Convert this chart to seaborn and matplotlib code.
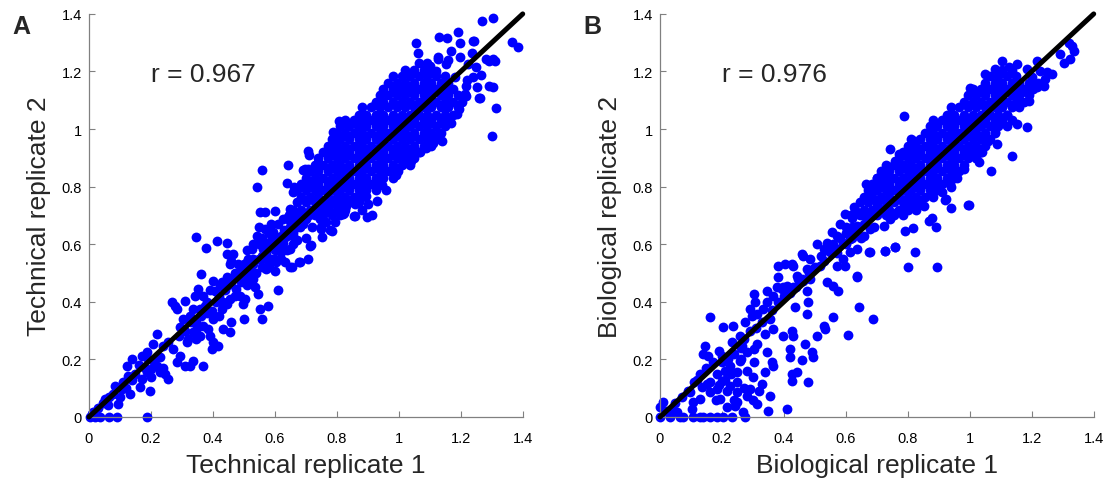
import pandas as pd
import matplotlib
matplotlib.use("Agg")
import matplotlib.pyplot as plt
import seaborn as sns

# ==========================================
# Data
# ==========================================
ticks = [0, 0.2, 0.4, 0.6, 0.8, 1.0, 1.2, 1.4]
tick_labels = ["0", "0.2", "0.4", "0.6", "0.8", "1", "1.2", "1.4"]
line_x = [0, 1.4]
line_y = [0, 1.4]

# --- Panel A: technical replicates ---
a_core_y = [0.70, 0.72, 0.745, 0.765, 0.79, 0.81, 0.83, 0.855, 0.875, 0.90, 0.92, 0.94,
            0.965, 0.985, 1.01, 1.03, 1.05, 1.075, 1.095, 1.12, 1.14, 1.16, 1.185, 1.205, 1.23]
a_core_x = [
    [0.645, 0.67, 0.70, 0.73, 0.755, 0.785, 0.81],
    [0.66, 0.685, 0.715, 0.74, 0.77, 0.80, 0.825],
    [0.67, 0.70, 0.73, 0.755, 0.785, 0.81, 0.84, 0.87],
    [0.685, 0.715, 0.74, 0.77, 0.80, 0.825, 0.855, 0.88],
    [0.67, 0.70, 0.73, 0.755, 0.785, 0.81, 0.84, 0.87, 0.895, 0.925],
    [0.685, 0.715, 0.74, 0.77, 0.80, 0.825, 0.855, 0.88, 0.91, 0.94],
    [0.70, 0.73, 0.755, 0.785, 0.81, 0.84, 0.87, 0.895, 0.925, 0.95, 0.98],
    [0.715, 0.74, 0.77, 0.80, 0.825, 0.855, 0.88, 0.91, 0.94, 0.965, 0.995],
    [0.73, 0.755, 0.785, 0.81, 0.84, 0.87, 0.895, 0.925, 0.95, 0.98, 1.01, 1.035],
    [0.74, 0.77, 0.80, 0.825, 0.855, 0.88, 0.91, 0.94, 0.965, 0.995, 1.02, 1.05],
    [0.755, 0.785, 0.81, 0.84, 0.87, 0.895, 0.925, 0.95, 0.98, 1.01, 1.035, 1.065],
    [0.77, 0.80, 0.825, 0.855, 0.88, 0.91, 0.94, 0.965, 0.995, 1.02, 1.05, 1.08, 1.105],
    [0.785, 0.81, 0.84, 0.87, 0.895, 0.925, 0.95, 0.98, 1.01, 1.035, 1.065, 1.09, 1.12],
    [0.80, 0.825, 0.855, 0.88, 0.91, 0.94, 0.965, 0.995, 1.02, 1.05, 1.08, 1.105, 1.135],
    [0.81, 0.84, 0.87, 0.895, 0.925, 0.95, 0.98, 1.01, 1.035, 1.065, 1.09, 1.12, 1.15],
    [0.825, 0.855, 0.88, 0.91, 0.94, 0.965, 0.995, 1.02, 1.05, 1.08, 1.105, 1.135, 1.16],
    [0.87, 0.895, 0.925, 0.95, 0.98, 1.01, 1.035, 1.065, 1.09, 1.12, 1.15, 1.175],
    [0.88, 0.91, 0.94, 0.965, 0.995, 1.02, 1.05, 1.08, 1.105, 1.135, 1.16, 1.19],
    [0.925, 0.95, 0.98, 1.01, 1.035, 1.065, 1.09, 1.12, 1.15, 1.175, 1.205],
    [0.94, 0.965, 0.995, 1.02, 1.05, 1.08, 1.105, 1.135, 1.16, 1.19],
    [0.95, 0.98, 1.01, 1.035, 1.065, 1.09, 1.12, 1.15, 1.175],
    [0.965, 0.995, 1.02, 1.05, 1.08, 1.105, 1.135, 1.16],
    [0.98, 1.01, 1.035, 1.065, 1.09, 1.12, 1.15],
    [1.02, 1.05, 1.08, 1.105],
    [1.065, 1.09],
]
a_high = [(1.304, 1.385), (1.269, 1.376), (1.364, 1.303), (1.386, 1.286), (1.191, 1.336),
          (1.130, 1.321), (1.157, 1.316), (1.057, 1.300), (1.063, 1.265), (1.198, 1.300),
          (1.243, 1.306), (1.167, 1.272), (1.237, 1.263), (1.197, 1.251), (1.128, 1.245),
          (1.290, 1.237), (1.310, 1.238), (1.160, 1.240), (1.154, 1.226), (1.224, 1.226),
          (1.248, 1.215), (1.265, 1.188), (1.290, 1.149), (1.304, 1.147), (1.251, 1.145),
          (1.259, 1.108), (1.216, 1.116), (1.313, 1.073), (1.301, 0.975), (1.195, 1.069),
          (1.189, 1.052), (1.168, 1.020), (1.130, 0.988), (1.128, 0.975), (1.089, 0.933),
          (0.923, 1.083), (0.890, 1.044), (0.861, 1.017), (0.806, 1.029), (0.829, 1.017),
          (0.788, 0.991), (0.788, 0.946), (0.708, 0.925), (0.711, 0.910), (0.738, 0.881),
          (0.708, 0.863), (0.691, 0.858), (0.641, 0.875), (0.559, 0.858), (0.543, 0.798),
          (0.639, 0.811), (0.663, 0.798), (0.665, 0.79), (0.997, 0.855), (0.947, 0.807),
          (0.894, 0.768), (0.659, 0.78), (0.697, 0.861), (0.74, 0.884), (1.10, 1.22),
          (1.12, 1.20), (1.18, 1.18), (1.22, 1.17), (1.24, 1.18), (1.14, 0.96), (1.11, 0.95),
          (1.07, 0.92), (1.04, 0.89), (0.99, 0.84), (0.96, 0.79), (0.93, 0.75), (1.127, 1.249),
          (1.239, 1.307), (1.283, 1.243), (1.304, 1.243), (1.261, 1.107), (1.218, 1.15),
          (1.213, 1.121)]
a_mid = [(0.267, 0.398), (0.277, 0.386), (0.283, 0.375), (0.31, 0.404), (0.294, 0.311),
         (0.303, 0.34), (0.326, 0.352), (0.336, 0.375), (0.342, 0.421), (0.353, 0.444),
         (0.363, 0.497), (0.347, 0.624), (0.377, 0.587), (0.412, 0.612), (0.447, 0.606),
         (0.401, 0.473), (0.406, 0.439), (0.369, 0.421), (0.38, 0.398), (0.358, 0.375),
         (0.374, 0.386), (0.396, 0.369), (0.401, 0.34), (0.385, 0.306), (0.39, 0.283),
         (0.358, 0.283), (0.347, 0.271), (0.337, 0.294), (0.315, 0.259), (0.347, 0.329),
         (0.368, 0.317), (0.401, 0.259), (0.417, 0.248), (0.396, 0.236), (0.428, 0.375),
         (0.433, 0.398), (0.444, 0.392), (0.455, 0.41), (0.433, 0.306), (0.455, 0.294),
         (0.46, 0.329), (0.423, 0.456), (0.444, 0.485), (0.455, 0.531), (0.444, 0.566),
         (0.465, 0.566), (0.46, 0.543), (0.471, 0.488), (0.476, 0.444), (0.487, 0.421),
         (0.498, 0.392), (0.503, 0.41), (0.5, 0.34), (0.509, 0.468), (0.492, 0.52),
         (0.509, 0.537), (0.525, 0.583), (0.52, 0.5), (0.53, 0.479), (0.535, 0.45),
         (0.546, 0.427), (0.552, 0.375), (0.557, 0.34), (0.578, 0.387), (0.514, 0.55),
         (0.541, 0.63), (0.552, 0.711), (0.568, 0.711), (0.562, 0.583), (0.573, 0.606),
         (0.557, 0.52), (0.573, 0.514), (0.568, 0.653), (0.589, 0.67), (0.594, 0.641),
         (0.589, 0.549), (0.6, 0.508), (0.611, 0.44), (0.605, 0.537), (0.616, 0.583),
         (0.627, 0.606), (0.648, 0.583), (0.648, 0.52), (0.632, 0.537), (0.62, 0.572),
         (0.638, 0.641), (0.659, 0.63), (0.67, 0.613), (0.678, 0.538), (0.708, 0.549),
         (0.713, 0.595), (0.627, 0.688), (0.648, 0.722), (0.67, 0.705), (0.68, 0.676),
         (0.702, 0.688), (0.723, 0.711), (0.745, 0.688), (0.75, 0.653), (0.766, 0.676),
         (0.783, 0.647), (0.793, 0.676), (0.82, 0.705), (0.858, 0.699), (0.896, 0.696),
         (0.915, 0.703), (0.856, 0.697), (0.824, 0.707), (0.777, 0.65), (0.751, 0.624),
         (0.748, 0.659), (0.804, 0.734), (0.831, 0.734), (0.718, 0.597), (0.681, 0.537),
         (0.654, 0.522), (0.6, 0.716), (0.56, 0.56), (0.58, 0.6), (0.6, 0.62), (0.62, 0.6),
         (0.6, 0.58), (0.63, 0.65), (0.65, 0.66), (0.66, 0.64), (0.68, 0.66), (0.69, 0.69),
         (0.61, 0.67), (0.64, 0.69), (0.58, 0.64), (0.55, 0.6), (0.53, 0.55), (0.5, 0.5),
         (0.52, 0.52), (0.47, 0.5), (0.49, 0.47), (0.54, 0.5), (0.6, 0.55), (0.66, 0.6),
         (0.7, 0.62), (0.72, 0.66), (0.71, 0.7), (0.62, 0.55), (0.55, 0.66), (0.44, 0.44),
         (0.42, 0.42), (0.39, 0.44), (0.41, 0.40), (0.38, 0.36), (0.36, 0.35), (0.33, 0.33),
         (0.31, 0.3), (0.29, 0.28), (0.32, 0.27), (0.35, 0.31), (0.42, 0.35), (0.45, 0.46),
         (0.48, 0.53), (0.51, 0.58), (0.53, 0.6), (0.56, 0.62), (0.59, 0.59), (0.63, 0.62),
         (0.67, 0.68), (0.74, 0.72), (0.76, 0.73), (0.78, 0.74), (0.86, 0.74), (0.88, 0.72),
         (0.9, 0.74), (0.46, 0.47), (0.48, 0.49), (0.5, 0.53), (0.51, 0.49), (0.53, 0.53),
         (0.55, 0.55), (0.57, 0.57), (0.57, 0.55), (0.59, 0.62), (0.61, 0.61), (0.62, 0.63),
         (0.64, 0.63), (0.65, 0.68), (0.67, 0.66), (0.69, 0.67), (0.43, 0.47), (0.47, 0.42),
         (0.51, 0.46), (0.58, 0.52), (0.64, 0.58)]
a_low = [(0.003, 0.0), (0.02, 0.0), (0.035, 0.0), (0.066, 0.0), (0.089, 0.0), (0.186, 0.0),
         (0.01, 0.01), (0.014, 0.016), (0.03, 0.03), (0.045, 0.05), (0.052, 0.062),
         (0.065, 0.07), (0.078, 0.08), (0.084, 0.108), (0.1, 0.068), (0.095, 0.045),
         (0.105, 0.097), (0.11, 0.12), (0.127, 0.144), (0.122, 0.178), (0.138, 0.201),
         (0.132, 0.08), (0.165, 0.103), (0.197, 0.089), (0.17, 0.213), (0.186, 0.224),
         (0.17, 0.132), (0.186, 0.155), (0.2, 0.166), (0.218, 0.178), (0.228, 0.155),
         (0.24, 0.17), (0.256, 0.132), (0.245, 0.15), (0.208, 0.253), (0.218, 0.288),
         (0.24, 0.248), (0.256, 0.259), (0.27, 0.236), (0.283, 0.19), (0.293, 0.213),
         (0.31, 0.178), (0.326, 0.178), (0.336, 0.196), (0.369, 0.178), (0.15, 0.15),
         (0.16, 0.18), (0.19, 0.2), (0.2, 0.14), (0.23, 0.21), (0.21, 0.19), (0.18, 0.17),
         (0.14, 0.13), (0.12, 0.1), (0.06, 0.04)]

# --- Panel B: biological replicates ---
b_core_y = [0.70, 0.72, 0.745, 0.765, 0.79, 0.81, 0.83, 0.855, 0.875, 0.90, 0.92, 0.94,
            0.965, 0.985, 1.01, 1.03, 1.05, 1.075, 1.095, 1.12, 1.14, 1.16, 1.185, 1.205]
b_core_x = [
    [0.615, 0.645, 0.67, 0.70, 0.73, 0.755, 0.785],
    [0.63, 0.66, 0.685, 0.715, 0.74, 0.77, 0.80, 0.825],
    [0.645, 0.67, 0.70, 0.73, 0.755, 0.785, 0.81, 0.84],
    [0.66, 0.685, 0.715, 0.74, 0.77, 0.80, 0.825, 0.855, 0.88],
    [0.67, 0.70, 0.73, 0.755, 0.785, 0.81, 0.84, 0.87, 0.895],
    [0.685, 0.715, 0.74, 0.77, 0.80, 0.825, 0.855, 0.88, 0.91, 0.935],
    [0.70, 0.73, 0.755, 0.785, 0.81, 0.84, 0.87, 0.895, 0.925, 0.95],
    [0.715, 0.74, 0.77, 0.80, 0.825, 0.855, 0.88, 0.91, 0.94, 0.965],
    [0.73, 0.755, 0.785, 0.81, 0.84, 0.87, 0.895, 0.925, 0.95, 0.98],
    [0.77, 0.80, 0.825, 0.855, 0.88, 0.91, 0.94, 0.965, 0.995, 1.02],
    [0.785, 0.81, 0.84, 0.87, 0.895, 0.925, 0.95, 0.98, 1.01, 1.035],
    [0.80, 0.825, 0.855, 0.88, 0.91, 0.94, 0.965, 0.995, 1.02, 1.05],
    [0.81, 0.84, 0.87, 0.895, 0.925, 0.95, 0.98, 1.01, 1.035, 1.065],
    [0.855, 0.88, 0.91, 0.94, 0.965, 0.995, 1.02, 1.05, 1.08],
    [0.87, 0.895, 0.925, 0.95, 0.98, 1.01, 1.035, 1.065, 1.09, 1.12],
    [0.88, 0.91, 0.94, 0.965, 0.995, 1.02, 1.05, 1.08, 1.105, 1.135],
    [0.925, 0.95, 0.98, 1.01, 1.035, 1.065, 1.09, 1.12],
    [0.94, 0.965, 0.995, 1.02, 1.05, 1.08, 1.105, 1.135, 1.16],
    [0.98, 1.01, 1.035, 1.065, 1.09, 1.12, 1.15, 1.175],
    [0.995, 1.02, 1.05, 1.08, 1.105, 1.135, 1.16, 1.19],
    [1.01, 1.035, 1.065, 1.09, 1.12, 1.15, 1.175, 1.205],
    [1.05, 1.08, 1.105, 1.135, 1.16, 1.19, 1.22],
    [1.065, 1.09, 1.12, 1.15],
    [1.105, 1.135],
]
b_high = [(1.33, 1.289), (1.335, 1.27), (1.32, 1.30), (1.303, 1.231), (1.323, 1.243),
          (1.292, 1.26), (1.217, 1.237), (1.104, 1.237), (1.125, 1.214), (1.152, 1.226),
          (1.185, 1.208), (1.228, 1.203), (1.249, 1.197), (1.265, 1.191), (1.244, 1.174),
          (1.239, 1.150), (1.217, 1.145), (1.19, 1.098), (1.152, 1.017), (1.185, 1.006),
          (1.136, 0.907), (1.068, 0.855), (1.031, 0.884), (1.0, 1.141), (0.788, 1.046),
          (0.743, 0.931), (0.77, 0.913), (0.732, 0.873), (0.665, 0.809), (1.088, 0.948),
          (1.20, 1.18), (1.21, 1.16), (1.17, 1.13), (1.16, 1.10), (1.12, 1.05), (1.10, 1.03),
          (1.08, 0.99), (1.06, 0.96), (1.04, 0.92), (1.02, 0.90), (0.98, 0.86), (0.96, 0.83),
          (0.94, 0.80), (0.91, 0.78), (0.924, 0.757), (0.94, 0.726), (0.994, 0.738),
          (0.82, 0.96), (0.80, 0.92), (0.76, 0.89), (0.72, 0.85), (0.70, 0.83), (0.68, 0.79),
          (1.08, 1.21), (1.05, 1.19)]
b_mid = [(0.996, 0.737), (0.921, 0.753), (0.892, 0.659), (0.867, 0.682), (0.816, 0.656),
         (0.824, 0.572), (0.8, 0.522), (0.894, 0.522), (0.792, 0.647), (0.76, 0.589),
         (0.725, 0.575), (0.675, 0.572), (0.635, 0.487), (0.644, 0.381), (0.689, 0.34),
         (0.606, 0.285), (0.558, 0.348), (0.576, 0.439), (0.56, 0.455), (0.539, 0.47),
         (0.625, 0.728), (0.598, 0.705), (0.555, 0.641), (0.506, 0.601), (0.463, 0.56),
         (0.431, 0.525), (0.382, 0.525), (0.404, 0.531), (0.425, 0.531), (0.442, 0.491),
         (0.382, 0.485), (0.377, 0.45), (0.398, 0.45), (0.431, 0.45), (0.463, 0.473),
         (0.485, 0.479), (0.474, 0.439), (0.479, 0.398), (0.476, 0.358), (0.436, 0.381),
         (0.528, 0.317), (0.533, 0.306), (0.506, 0.282), (0.469, 0.253), (0.49, 0.225),
         (0.495, 0.208), (0.458, 0.198), (0.442, 0.155), (0.479, 0.12), (0.425, 0.149),
         (0.431, 0.282), (0.425, 0.3), (0.398, 0.282), (0.42, 0.236), (0.42, 0.207),
         (0.425, 0.126), (0.409, 0.028), (0.495, 0.514), (0.517, 0.525), (0.528, 0.543),
         (0.549, 0.572), (0.571, 0.583), (0.592, 0.606), (0.614, 0.618), (0.625, 0.641),
         (0.635, 0.664), (0.668, 0.688), (0.7, 0.711), (0.722, 0.722), (0.571, 0.525),
         (0.592, 0.549), (0.614, 0.572), (0.635, 0.583), (0.657, 0.63), (0.679, 0.653),
         (0.722, 0.664), (0.743, 0.688), (0.765, 0.711), (0.786, 0.722), (0.808, 0.734),
         (0.829, 0.745), (0.851, 0.734), (0.458, 0.566), (0.571, 0.63), (0.539, 0.606),
         (0.528, 0.583), (0.485, 0.549), (0.474, 0.514), (0.447, 0.479), (0.409, 0.456),
         (0.393, 0.444), (0.366, 0.421), (0.345, 0.398), (0.334, 0.375), (0.312, 0.358),
         (0.296, 0.352), (0.291, 0.375), (0.302, 0.427), (0.307, 0.398), (0.345, 0.439),
         (0.355, 0.34), (0.366, 0.306), (0.339, 0.288), (0.275, 0.329), (0.237, 0.317),
         (0.202, 0.314), (0.162, 0.346), (0.878, 0.69), (0.70, 0.74), (0.66, 0.70),
         (0.74, 0.745), (0.60, 0.66), (0.62, 0.69), (0.58, 0.67), (0.635, 0.491),
         (0.598, 0.525), (0.678, 0.572), (0.727, 0.578), (0.759, 0.591), (0.36, 0.37),
         (0.38, 0.4), (0.4, 0.42), (0.42, 0.43), (0.44, 0.45), (0.46, 0.48), (0.48, 0.5),
         (0.5, 0.52), (0.52, 0.56), (0.54, 0.58), (0.56, 0.6), (0.58, 0.62), (0.6, 0.64),
         (0.62, 0.62), (0.64, 0.66), (0.66, 0.67), (0.68, 0.7), (0.65, 0.62), (0.69, 0.66),
         (0.62, 0.66), (0.6, 0.6), (0.57, 0.57)]
b_low = [(0.145, 0.248), (0.14, 0.219), (0.156, 0.213), (0.19, 0.23), (0.2, 0.213),
         (0.232, 0.259), (0.259, 0.282), (0.265, 0.248), (0.28, 0.225), (0.302, 0.236),
         (0.312, 0.253), (0.345, 0.225), (0.361, 0.19), (0.366, 0.178), (0.302, 0.19),
         (0.259, 0.196), (0.226, 0.178), (0.21, 0.161), (0.248, 0.155), (0.183, 0.149),
         (0.199, 0.126), (0.226, 0.109), (0.248, 0.086), (0.215, 0.092), (0.183, 0.097),
         (0.162, 0.086), (0.151, 0.115), (0.129, 0.0625), (0.135, 0.103), (0.108, 0.051),
         (0.097, 0.086), (0.194, 0.0625), (0.215, 0.033), (0.248, 0.051), (0.28, 0.074),
         (0.291, 0.097), (0.328, 0.115), (0.339, 0.155), (0.355, 0.074), (0.35, 0.022),
         (0.312, 0.045), (0.269, 0.016), (0.275, 0.0), (0.242, 0.039), (0.102, 0.028),
         (0.011, 0.051), (0.0, 0.034), (0.038, 0.028), (0.054, 0.016), (0.032, 0.0),
         (0.065, 0.0), (0.075, 0.0), (0.108, 0.0), (0.129, 0.0), (0.14, 0.0), (0.162, 0.0),
         (0.183, 0.0), (0.205, 0.0), (0.232, 0.0), (0.0, 0.0), (0.02, 0.02), (0.05, 0.05),
         (0.07, 0.07), (0.09, 0.09), (0.11, 0.12), (0.13, 0.15), (0.15, 0.17), (0.17, 0.19),
         (0.12, 0.13), (0.16, 0.12), (0.18, 0.06), (0.21, 0.13), (0.22, 0.2), (0.24, 0.22),
         (0.26, 0.24), (0.27, 0.27), (0.29, 0.3), (0.31, 0.31), (0.33, 0.33), (0.25, 0.12),
         (0.27, 0.1), (0.3, 0.06), (0.32, 0.09), (0.2, 0.19), (0.23, 0.15), (0.19, 0.11),
         (0.26, 0.2), (0.28, 0.16), (0.3, 0.14), (0.24, 0.06)]


def to_frame(core_y, core_x, *groups):
    xs, ys = [], []
    for y, row in zip(core_y, core_x):
        xs += row
        ys += [y] * len(row)
    for pts in groups:
        for x, y in pts:
            xs.append(x)
            ys.append(y)
    return pd.DataFrame({"rep1": xs, "rep2": ys})


df_a = to_frame(a_core_y, a_core_x, a_high, a_mid, a_low)
df_b = to_frame(b_core_y, b_core_x, b_high, b_mid, b_low)

panels = [
    ("A", df_a, "Technical replicate 1", "Technical replicate 2", "r = 0.967", 0.0798),
    ("B", df_b, "Biological replicate 1", "Biological replicate 2", "r = 0.976", 0.5919),
]

# ==========================================
# Plot
# ==========================================
sns.set_style("ticks")
plt.rcParams["font.family"] = ["Liberation Sans", "DejaVu Sans"]

fig = plt.figure(figsize=(11.15, 4.81), dpi=100)

for letter, df, xlab, ylab, rtext, left in panels:
    ax = fig.add_axes([left, 0.131, 0.389, 0.838])
    sns.scatterplot(data=df, x="rep1", y="rep2", color="#0000ff", s=50,
                    linewidth=0, ax=ax, clip_on=False, zorder=2)
    ax.plot(line_x, line_y, color="black", linewidth=3.6, zorder=3,
            solid_capstyle="round", clip_on=False)
    ax.set_xlim(0, 1.4)
    ax.set_ylim(0, 1.4)
    ax.set_xticks(ticks)
    ax.set_xticklabels(tick_labels)
    ax.set_yticks(ticks)
    ax.set_yticklabels(tick_labels)
    ax.tick_params(direction="in", length=4, width=0.8, color="#808080",
                   labelsize=10.5, labelcolor="black")
    ax.tick_params(axis="x", pad=10)
    ax.tick_params(axis="y", pad=5)
    sns.despine(ax=ax)
    for side in ["left", "bottom"]:
        ax.spines[side].set_color("#808080")
        ax.spines[side].set_linewidth(0.9)
    ax.set_xlabel(xlab, fontsize=19, labelpad=6)
    ax.set_ylabel(ylab, fontsize=19, labelpad=8)
    ax.text(0.2, 1.19, rtext, fontsize=19, ha="left", va="center")
    fig.text(left - 0.069, 0.968, letter, fontsize=18, fontweight="bold",
             ha="left", va="top")

plt.savefig("out.png", dpi=100)
